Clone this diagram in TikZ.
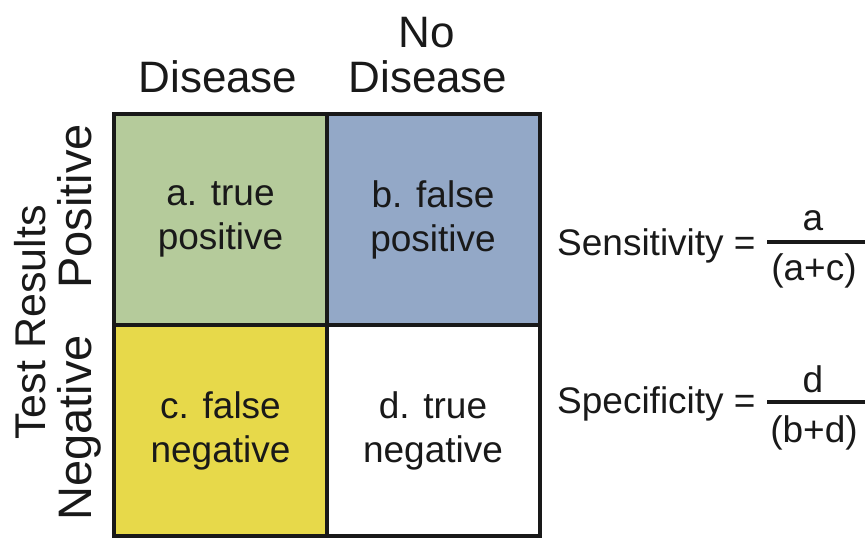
\documentclass[tikz,border=0pt]{standalone}
\usepackage{fontspec}
\setmainfont{Liberation Sans}
\definecolor{cgreen}{RGB}{181,203,155}
\definecolor{cblue}{RGB}{147,168,199}
\definecolor{cyellow}{RGB}{231,217,74}
\begin{document}
\begin{tikzpicture}[x=1pt,y=-1pt,
  cell/.style={draw=black!90, line width=4pt, minimum width=213pt, minimum height=211pt,
    inner sep=0pt, align=center, font=\fontsize{37}{44}\selectfont, text=black!90},
  head/.style={font=\fontsize{44}{45}\selectfont, text=black!90, inner sep=0pt, anchor=base},
  side/.style={font=\fontsize{43}{45}\selectfont, text=black!90, inner sep=0pt, anchor=base, rotate=90},
  sidebig/.style={side, font=\fontsize{47}{49}\selectfont},
  formula/.style={font=\fontsize{37}{44}\selectfont, text=black!90, inner sep=0pt, anchor=base}]
\useasboundingbox (0,0) rectangle (865,538);
\fill[white] (0,0) rectangle (865,538);
% cells
\node[cell, fill=cgreen] (a) at (220.5,219.5) {a. true\\positive};
\node[cell, fill=cblue] (b) at (433,219.5) {b. false\\positive};
\node[cell, fill=cyellow] (c) at (220.5,430.5) {c. false\\negative};
\node[cell, fill=white] (d) at (433,430.5) {d. true\\negative};
% headers
\node[head] (no) at (427,47) {No};
\node[head] (dis2) at (428,92) {Disease};
\node[head] (dis1) at (218,92) {Disease};
% side labels
\node[side] (tr) at (45,322.5) {Test Results};
\node[sidebig] (pos) at (91,206.5) {Positive};
\node[sidebig] (neg) at (91,428) {Negative};
% formulas
\node[formula, anchor=base west] (sens) at (557,255) {Sensitivity =};
\node[formula] (sa) at (813,230) {a};
\node[formula] (sac) at (814,280) {(a+c)};
\draw[line width=4pt, black!90] (767,242) -- (866,242);
\node[formula, anchor=base west] (spec) at (557,413) {Specificity =};
\node[formula] (sd) at (813,392) {d};
\node[formula] (sbd) at (814,442) {(b+d)};
\draw[line width=4pt, black!90] (767,402) -- (866,402);
\end{tikzpicture}
\end{document}
